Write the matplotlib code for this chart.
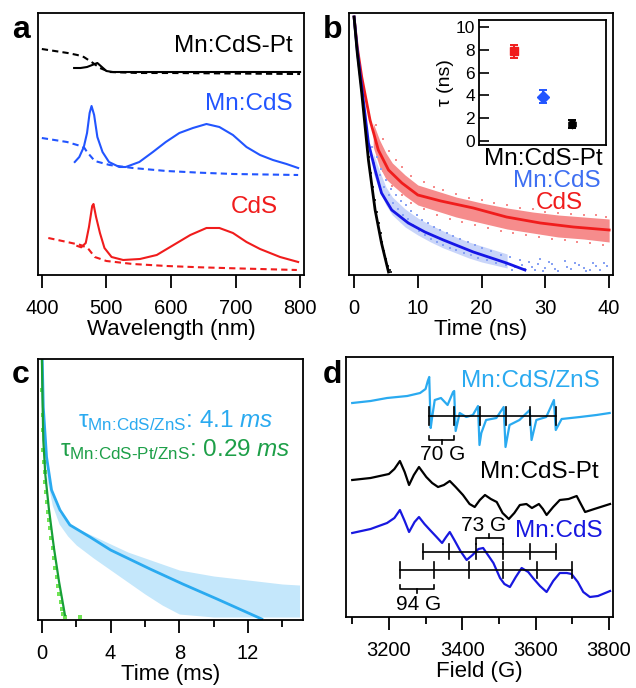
import matplotlib
matplotlib.use("Agg")
import matplotlib.pyplot as plt
from matplotlib.ticker import MultipleLocator

plt.rcParams["font.family"] = ["Liberation Sans", "DejaVu Sans"]
plt.rcParams["mathtext.fontset"] = "custom"
plt.rcParams["mathtext.rm"] = "Liberation Sans"
plt.rcParams["mathtext.it"] = "Liberation Sans:italic"
plt.rcParams["axes.linewidth"] = 1.3

# ---- panel a: absorption (dashed) and PL (solid), offset, arb. units
pt_pl_wl = [450, 460, 470, 478, 486, 493, 500, 510, 550, 600, 700, 800]
pt_pl = [207, 207, 208, 210, 212, 208, 204, 203, 203, 203, 203, 203]
pt_abs_wl = [400, 420, 440, 455, 465, 477, 490, 505, 550, 600, 700, 800]
pt_abs = [226, 224, 222, 220, 218, 213, 207, 203, 202, 202, 201.5, 201]

mn_pl_wl = [451, 458, 465, 470, 474, 477, 481, 486, 494, 504, 520, 530, 551, 572,
            592, 613, 634, 655, 675, 696, 717, 738, 758, 779, 797]
mn_pl = [113, 118, 128, 142, 162, 169, 160, 138, 123, 113, 108, 108, 113, 123,
         133, 142, 147, 151, 148, 140, 128, 120, 115, 111, 107]
mn_abs_wl = [400, 439, 460, 466, 470, 482, 505, 541, 593, 645, 697, 797]
mn_abs = [137, 133, 129, 127, 123, 114, 110, 107, 104, 102.3, 101, 100]

cds_pl_wl = [455, 461, 468, 473, 478, 480, 484, 490, 497, 508, 526, 552, 578, 604,
             630, 655, 675, 696, 717, 738, 769, 797]
cds_pl = [29, 27.7, 32, 48, 69, 71, 58, 42, 27, 18, 15, 16, 20, 30,
          40, 47, 47, 42, 33, 26, 18, 13]
cds_abs_wl = [410, 439, 460, 471, 482, 500, 541, 593, 645, 697, 795]
cds_abs = [37, 33, 30, 27, 18, 14, 11, 9, 7.7, 6.7, 5]

# ---- panel b: PL decays (arb. log units) and lifetimes
red_fit_t = [0, 0.5, 1.2, 2.5, 3.8, 5.4, 7.5, 10, 13.6, 18.7, 23.9, 29.2, 34.4, 40]
red_fit = [258, 228, 198, 155, 125, 105, 92, 80, 74, 67, 58, 52, 48, 45]
red_band_t = [3, 4, 5, 6, 8, 10, 13, 16, 20, 24, 28, 32, 36, 40]
red_band_lo = [128, 108, 96, 90, 79, 70, 64, 58, 52, 46, 42, 38, 36, 33]
red_band_hi = [152, 135, 122, 112, 100, 90, 84, 78, 72, 67, 63, 60, 58, 56]
red_dots = [(3.5, 150), (4.5, 136), (5.5, 124), (6.5, 115), (7.5, 108), (9, 99),
            (11, 93), (12.5, 88), (14, 85), (16, 81), (18, 77), (20, 75), (22, 72),
            (24, 70), (26, 67), (28, 66), (30, 63), (32, 62), (34, 61), (36, 60),
            (38, 60), (39.5, 58), (4.5, 104), (6, 89), (7.5, 80), (9, 72), (11, 66),
            (13, 60), (15, 56), (17, 53), (19, 50), (21, 47), (23, 44), (25, 42),
            (27, 40), (29, 38), (31, 36), (33, 35), (35, 33), (37, 32), (39, 30),
            (39.8, 35)]

blue_fit_t = [0, 0.5, 1.2, 2.25, 3.3, 4.3, 5.9, 8.5, 11.1, 14, 18.7, 23.9, 26.8]
blue_fit = [258, 225, 188, 132, 105, 82, 65, 52, 43, 35, 23, 12, 5]
blue_band_t = [3, 4, 5, 6, 8, 10, 12, 14, 16, 18, 20, 22, 24]
blue_band_lo = [102, 84, 70, 60, 48, 40, 33, 27, 22, 17, 13, 10, 7]
blue_band_hi = [122, 104, 88, 78, 66, 57, 50, 44, 38, 33, 29, 25, 21]
blue_dots = [(2.8, 128), (3.2, 112), (3.6, 118), (4.0, 100), (4.3, 106), (4.7, 88),
             (5.0, 95), (5.4, 80), (5.8, 86), (6.1, 72), (6.5, 80), (6.9, 66),
             (7.3, 74), (7.7, 60), (8.1, 70), (8.5, 56), (8.9, 64), (9.3, 50),
             (9.8, 60), (10.2, 44), (10.7, 55), (11.1, 40), (11.6, 52), (12.0, 36),
             (12.5, 48), (13.0, 33), (13.5, 45), (14.0, 30), (14.5, 42), (15.0, 27),
             (15.5, 39), (16.0, 25), (16.6, 36), (17.2, 22), (17.8, 33), (18.3, 20),
             (18.9, 30), (19.5, 17), (20.1, 27), (20.8, 15), (21.5, 24), (22.2, 12),
             (23.0, 20), (23.8, 10), (24.5, 18), (25.3, 8), (26.0, 15), (26.8, 6),
             (27.5, 13), (28.3, 5), (29.2, 16), (30.0, 7), (31.0, 11), (32.0, 4),
             (33.0, 14), (34.0, 6), (35.2, 10), (36.3, 4), (37.5, 12), (38.5, 5),
             (39.6, 9), (24.8, 5), (26.3, 10), (27.9, 8), (28.8, 11), (29.7, 4),
             (30.6, 13), (31.5, 6), (33.4, 8), (34.6, 12), (36.0, 7), (37.0, 5),
             (38.0, 9), (39.2, 12)]

black_fit_t = [0, 0.5, 1.2, 2.25, 3.3, 4.3, 5.4]
black_fit = [258, 222, 182, 115, 65, 32, 3]
black_dots = [(1.6, 160), (2.0, 138), (2.35, 118), (2.65, 102), (2.95, 88),
              (3.25, 75), (3.55, 63), (3.85, 52), (4.15, 42), (4.45, 33),
              (4.75, 24), (5.05, 16), (5.35, 9), (5.6, 5), (5.85, 3)]

samples = ["CdS", "Mn:CdS", "Mn:CdS-Pt"]
tau_ns = [7.85, 3.9, 1.45]
tau_err = [0.6, 0.55, 0.35]

# ---- panel c: Mn emission decays
lb_fit_t = [0.02, 0.08, 0.27, 0.56, 1.05, 1.63, 2.8, 4.0, 6.3, 8.2, 10.2, 12.8]
lb_fit = [261, 213, 163, 130, 110, 95, 83, 70, 51, 36, 21, 1]
lb_band_t = [0.3, 0.6, 1.0, 1.5, 2.0, 3.0, 4.0, 5.0, 6.0, 7.0, 8.0, 10.0, 12.0, 14.0, 15.0]
lb_band_lo = [140, 115, 96, 84, 75, 62, 50, 38, 26, 15, 6, 3, 3, 3, 3]
lb_band_hi = [150, 126, 108, 98, 92, 84, 76, 68, 62, 56, 50, 44, 40, 36, 35]

gr_fit_t = [0.0, 0.03, 0.08, 0.2, 0.4, 0.7, 1.0, 1.34]
gr_fit = [261, 225, 180, 145, 112, 72, 38, 5]
gr_dots = [(0.02, 230), (0.04, 205), (0.06, 190), (0.09, 170), (0.12, 158), (0.16, 148),
           (0.2, 138), (0.25, 128), (0.3, 118), (0.36, 108), (0.42, 100), (0.48, 92),
           (0.55, 82), (0.62, 72), (0.7, 62), (0.78, 52), (0.86, 43), (0.94, 34),
           (1.02, 26), (1.1, 18), (1.18, 11), (1.25, 6), (1.32, 3), (2.2, 3)]

# ---- panel d: EPR spectra
zns_epr = [(3100, 214), (3150, 216), (3195, 219), (3250, 221), (3285, 224), (3300, 228),
           (3306, 236), (3310, 240), (3314, 189), (3318, 200), (3325, 217), (3342, 219),
           (3360, 212), (3375, 225), (3378, 226), (3382, 186), (3393, 204), (3411, 200),
           (3429, 202), (3443, 211), (3447, 172), (3452, 184), (3465, 197), (3493, 199),
           (3513, 210), (3518, 170), (3529, 192), (3556, 197), (3584, 207), (3589, 177),
           (3602, 197), (3629, 200), (3650, 217), (3655, 187), (3671, 198), (3721, 200),
           (3766, 202), (3802, 204)]
pt_epr = [(3100, 137), (3150, 139), (3200, 143), (3215, 148), (3230, 156), (3243, 145),
          (3255, 132), (3268, 142), (3282, 150), (3302, 140), (3318, 134), (3334, 130),
          (3350, 132), (3366, 136), (3382, 130), (3402, 122), (3420, 113), (3434, 110),
          (3448, 117), (3462, 122), (3478, 118), (3494, 115), (3510, 104), (3527, 98),
          (3542, 104), (3557, 112), (3575, 113), (3590, 109), (3609, 113), (3620, 108),
          (3630, 102), (3648, 110), (3666, 117), (3690, 118), (3712, 121), (3722, 114),
          (3735, 105), (3760, 108), (3803, 113)]
mn_epr = [(3100, 84), (3150, 88), (3195, 94), (3215, 99), (3230, 107), (3243, 96),
          (3255, 85), (3270, 95), (3282, 100), (3297, 93), (3312, 87), (3330, 80),
          (3345, 74), (3356, 80), (3366, 85), (3380, 76), (3395, 66), (3412, 57),
          (3428, 62), (3444, 68), (3457, 69), (3470, 62), (3485, 54), (3503, 39),
          (3515, 33), (3530, 30), (3546, 40), (3562, 49), (3580, 45), (3593, 39),
          (3612, 31), (3630, 25), (3648, 36), (3666, 44), (3685, 44), (3698, 43),
          (3715, 35), (3730, 25), (3748, 20), (3770, 21), (3803, 26)]
zns_lines = [3309, 3378, 3448, 3518, 3586, 3657]
mn_lines_73 = [3292, 3365, 3437, 3511, 3585, 3656]
mn_lines_94 = [3230, 3323, 3418, 3512, 3605, 3700]

RED = "#f01c1c"
RED_LIGHT = "#f68c8c"
BLUE_A = "#2255ff"
BLUE_FIT = "#1616e6"
BLUE_DOT = "#88a2f3"
BLUE_TXT = "#3e6ff2"
LB = "#2aaaf0"
LB_LIGHT = "#c4e7fb"
GREEN_TXT = "#1d9f48"
GREEN_LINE = "#17a037"
GREEN_DOT = "#70e355"
D_BLUE = "#1818e0"

TICK = dict(labelsize=14.5, length=9, width=1.3, pad=8)
LABEL_FS = 16
NAME_FS = 17.5


def unzip(pairs):
    return [p[0] for p in pairs], [p[1] for p in pairs]


fig = plt.figure(figsize=(6.36, 6.88), dpi=100)

# ---------------- a
ax = fig.add_axes([0.0597, 0.6003, 0.4182, 0.3808])
dash = (3, 2)
ax.plot(pt_abs_wl, pt_abs, color="black", lw=1.5, dashes=dash)
ax.plot(pt_pl_wl, pt_pl, color="black", lw=1.5)
ax.plot(mn_abs_wl, mn_abs, color=BLUE_A, lw=1.5, dashes=dash)
ax.plot(mn_pl_wl, mn_pl, color=BLUE_A, lw=1.5)
ax.plot(cds_abs_wl, cds_abs, color=RED, lw=1.5, dashes=dash)
ax.plot(cds_pl_wl, cds_pl, color=RED, lw=1.5)
ax.text(789, 223, "Mn:CdS-Pt", color="black", fontsize=NAME_FS, ha="right", va="baseline")
ax.text(789, 165, "Mn:CdS", color=BLUE_A, fontsize=NAME_FS, ha="right", va="baseline")
ax.text(765, 62, "CdS", color=RED, fontsize=NAME_FS, ha="right", va="baseline")
ax.set_xlim(394, 806)
ax.set_ylim(0, 262)
ax.set_xticks([400, 500, 600, 700, 800])
ax.set_yticks([])
ax.tick_params(axis="x", **TICK)
ax.set_xlabel("Wavelength (nm)", fontsize=LABEL_FS, labelpad=1)

# ---------------- b
ax = fig.add_axes([0.5487, 0.6003, 0.4151, 0.3808])
ax.fill_between(red_band_t, red_band_lo, red_band_hi, color=RED_LIGHT, lw=0)
rt, ry = unzip(red_dots)
ax.scatter(rt, ry, s=4, marker="s", color=RED_LIGHT, lw=0)
ax.fill_between(blue_band_t, blue_band_lo, blue_band_hi, color=BLUE_DOT, alpha=0.45, lw=0)
bt, by = unzip(blue_dots)
ax.scatter(bt, by, s=4, marker="s", color=BLUE_DOT, lw=0)
kt, ky = unzip(black_dots)
ax.scatter(kt, ky, s=4, marker="s", color="#333333", lw=0)
ax.plot(red_fit_t, red_fit, color=RED, lw=2)
ax.plot(blue_fit_t, blue_fit, color=BLUE_FIT, lw=2)
ax.plot(black_fit_t, black_fit, color="black", lw=2)
ax.text(0.962, 0.42, "Mn:CdS-Pt", color="black", fontsize=NAME_FS, ha="right",
        va="baseline", transform=ax.transAxes)
ax.text(0.953, 0.336, "Mn:CdS", color=BLUE_TXT, fontsize=NAME_FS, ha="right",
        va="baseline", transform=ax.transAxes)
ax.text(0.886, 0.252, "CdS", color=RED, fontsize=NAME_FS, ha="right",
        va="baseline", transform=ax.transAxes)
ax.set_xlim(-0.8, 40.6)
ax.set_ylim(0, 262)
ax.set_xticks([0, 10, 20, 30, 40])
ax.set_yticks([])
ax.tick_params(axis="x", **TICK)
ax.set_xlabel("Time (ns)", fontsize=LABEL_FS, labelpad=1)

ins = fig.add_axes([0.7531, 0.7892, 0.1997, 0.1817])
markers = ["s", "D", "h"]
colors = [RED, BLUE_A, "black"]
for i in range(len(samples)):
    ins.errorbar(i, tau_ns[i], yerr=tau_err[i], fmt=markers[i], color=colors[i],
                 ms=6, capsize=3, elinewidth=1.4, capthick=1.4)
ins.set_xlim(-1.18, 3.15)
ins.set_ylim(-0.35, 10.6)
ins.set_xticks([])
ins.set_yticks([0, 2, 4, 6, 8, 10])
ins.tick_params(axis="y", direction="in", labelsize=12.5, length=7, width=1.2, pad=3)
ins.set_ylabel("τ (ns)", fontsize=14, labelpad=1)

# ---------------- c
ax = fig.add_axes([0.0597, 0.0988, 0.4167, 0.3794])
ax.fill_between(lb_band_t, lb_band_lo, lb_band_hi, color=LB_LIGHT, lw=0)
gt, gy = unzip(gr_dots)
ax.scatter(gt, gy, s=6, marker="s", color=GREEN_DOT, lw=0)
ax.plot(lb_fit_t, lb_fit, color=LB, lw=2)
ax.plot(gr_fit_t, gr_fit, color=GREEN_LINE, lw=1.6)
ax.text(0.151, 0.741, r"τ$_{\text{Mn:CdS/ZnS}}$: 4.1 $\mathit{ms}$", color=LB,
        fontsize=NAME_FS, ha="left", va="baseline", transform=ax.transAxes)
ax.text(0.083, 0.628, r"τ$_{\text{Mn:CdS-Pt/ZnS}}$: 0.29 $\mathit{ms}$", color=GREEN_TXT,
        fontsize=NAME_FS, ha="left", va="baseline", transform=ax.transAxes)
ax.set_xlim(-0.23, 15.2)
ax.set_ylim(0, 261)
ax.xaxis.set_major_locator(MultipleLocator(4))
ax.xaxis.set_minor_locator(MultipleLocator(2))
ax.set_yticks([])
ax.tick_params(axis="x", which="major", **TICK)
ax.tick_params(axis="x", which="minor", length=5, width=1.3)
ax.set_xlabel("Time (ms)", fontsize=LABEL_FS, labelpad=1)

# ---------------- d
ax = fig.add_axes([0.544, 0.1032, 0.4198, 0.3779])
fx, fy = unzip(zns_epr)
ax.plot(fx, fy, color=LB, lw=1.6)
fx, fy = unzip(pt_epr)
ax.plot(fx, fy, color="black", lw=1.6)
fx, fy = unzip(mn_epr)
ax.plot(fx, fy, color=D_BLUE, lw=1.6)


def sextet(lines, y, half):
    ax.plot([lines[0], lines[-1]], [y, y], color="black", lw=1.2)
    for x in lines:
        ax.plot([x, x], [y - half, y + half], color="black", lw=1.2)


def bracket(x0, x1, y, leg, tick):
    ax.plot([x0, x0, x1, x1], [y + leg, y, y, y + leg], color="black", lw=1.2)
    xm = (x0 + x1) / 2
    ax.plot([xm, xm], [y, y + tick], color="black", lw=1.2)


sextet(zns_lines, 201, 9)
bracket(zns_lines[0], zns_lines[1], 177, 4, -4)
ax.text(3346, 157, "70 G", fontsize=15, ha="center", va="baseline")
sextet(mn_lines_73, 65, 7.5)
bracket(mn_lines_73[2], mn_lines_73[3], 79, -6, 4)
ax.text(3457, 86, "73 G", fontsize=15, ha="center", va="baseline")
sextet(mn_lines_94, 47, 8)
bracket(mn_lines_94[0], mn_lines_94[1], 28, 4, -4)
ax.text(3280, 7, "94 G", fontsize=15, ha="center", va="baseline")

ax.text(3775, 230, "Mn:CdS/ZnS", color=LB, fontsize=NAME_FS, ha="right", va="baseline")
ax.text(3771, 139, "Mn:CdS-Pt", color="black", fontsize=NAME_FS, ha="right", va="baseline")
ax.text(3783, 80, "Mn:CdS", color=D_BLUE, fontsize=NAME_FS, ha="right", va="baseline")
ax.set_xlim(3083, 3811)
ax.set_ylim(0, 260)
ax.xaxis.set_major_locator(MultipleLocator(200))
ax.xaxis.set_minor_locator(MultipleLocator(100))
ax.set_yticks([])
ax.tick_params(axis="x", which="major", **TICK)
ax.tick_params(axis="x", which="minor", length=5, width=1.3)
ax.set_xlabel("Field (G)", fontsize=LABEL_FS, labelpad=1)

# panel letters
for letter, x, y in [("a", 0.019, 0.945), ("b", 0.508, 0.945),
                     ("c", 0.019, 0.443), ("d", 0.508, 0.443)]:
    fig.text(x, y, letter, fontsize=23, fontweight="bold", ha="left", va="baseline")

fig.savefig("out.png", dpi=100)
